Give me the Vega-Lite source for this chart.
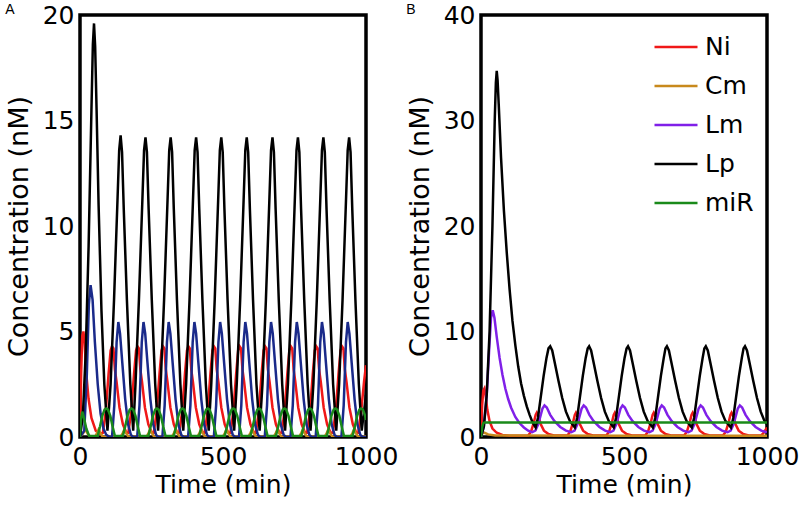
{
"$schema": "https://vega.github.io/schema/vega-lite/v6.json",
"padding": {"left": 3, "top": 1, "right": 0, "bottom": 0},
"config": {
  "view": {"stroke": "black", "strokeWidth": 3.5},
  "font": "DejaVu Sans",
  "axis": {"grid": false, "ticks": false, "domain": false, "labelFont": "DejaVu Sans", "labelFontSize": 25, "labelColor": "black", "titleFont": "DejaVu Sans", "titleFontSize": 25, "titleFontWeight": "normal", "titleColor": "black", "labelPadding": 6, "labelFlush": false, "format": "d"}
},
"datasets": {"d": [
{"p":"A","s":"Ni","t":0,"v":0},{"p":"A","s":"Ni","t":4,"v":3},{"p":"A","s":"Ni","t":8,"v":4.8},{"p":"A","s":"Ni","t":12,"v":5},{"p":"A","s":"Ni","t":16,"v":4.5},{"p":"A","s":"Ni","t":22,"v":3},{"p":"A","s":"Ni","t":30,"v":1.8},{"p":"A","s":"Ni","t":40,"v":0.9},{"p":"A","s":"Ni","t":55,"v":0.3},{"p":"A","s":"Ni","t":70,"v":0.15},
{"p":"A","s":"Ni","t":80,"v":0.2},{"p":"A","s":"Ni","t":90,"v":1.2},{"p":"A","s":"Ni","t":100,"v":3},{"p":"A","s":"Ni","t":107,"v":4.1},{"p":"A","s":"Ni","t":112,"v":4.3},{"p":"A","s":"Ni","t":117,"v":4.2},{"p":"A","s":"Ni","t":122,"v":3.2},{"p":"A","s":"Ni","t":128,"v":2.6},{"p":"A","s":"Ni","t":138,"v":1.4},{"p":"A","s":"Ni","t":150,"v":0.6},{"p":"A","s":"Ni","t":162,"v":0.2},
{"p":"A","s":"Ni","t":169,"v":0.2},{"p":"A","s":"Ni","t":179,"v":1.2},{"p":"A","s":"Ni","t":189,"v":3},{"p":"A","s":"Ni","t":196,"v":4.1},{"p":"A","s":"Ni","t":201,"v":4.3},{"p":"A","s":"Ni","t":206,"v":4.2},{"p":"A","s":"Ni","t":211,"v":3.2},{"p":"A","s":"Ni","t":217,"v":2.6},{"p":"A","s":"Ni","t":227,"v":1.4},{"p":"A","s":"Ni","t":239,"v":0.6},{"p":"A","s":"Ni","t":251,"v":0.2},
{"p":"A","s":"Ni","t":258,"v":0.2},{"p":"A","s":"Ni","t":268,"v":1.2},{"p":"A","s":"Ni","t":278,"v":3},{"p":"A","s":"Ni","t":285,"v":4.1},{"p":"A","s":"Ni","t":290,"v":4.3},{"p":"A","s":"Ni","t":295,"v":4.2},{"p":"A","s":"Ni","t":300,"v":3.2},{"p":"A","s":"Ni","t":306,"v":2.6},{"p":"A","s":"Ni","t":316,"v":1.4},{"p":"A","s":"Ni","t":328,"v":0.6},{"p":"A","s":"Ni","t":340,"v":0.2},
{"p":"A","s":"Ni","t":347,"v":0.2},{"p":"A","s":"Ni","t":357,"v":1.2},{"p":"A","s":"Ni","t":367,"v":3},{"p":"A","s":"Ni","t":374,"v":4.1},{"p":"A","s":"Ni","t":379,"v":4.3},{"p":"A","s":"Ni","t":384,"v":4.2},{"p":"A","s":"Ni","t":389,"v":3.2},{"p":"A","s":"Ni","t":395,"v":2.6},{"p":"A","s":"Ni","t":405,"v":1.4},{"p":"A","s":"Ni","t":417,"v":0.6},{"p":"A","s":"Ni","t":429,"v":0.2},
{"p":"A","s":"Ni","t":436,"v":0.2},{"p":"A","s":"Ni","t":446,"v":1.2},{"p":"A","s":"Ni","t":456,"v":3},{"p":"A","s":"Ni","t":463,"v":4.1},{"p":"A","s":"Ni","t":468,"v":4.3},{"p":"A","s":"Ni","t":473,"v":4.2},{"p":"A","s":"Ni","t":478,"v":3.2},{"p":"A","s":"Ni","t":484,"v":2.6},{"p":"A","s":"Ni","t":494,"v":1.4},{"p":"A","s":"Ni","t":506,"v":0.6},{"p":"A","s":"Ni","t":518,"v":0.2},
{"p":"A","s":"Ni","t":526,"v":0.2},{"p":"A","s":"Ni","t":536,"v":1.2},{"p":"A","s":"Ni","t":546,"v":3},{"p":"A","s":"Ni","t":553,"v":4.1},{"p":"A","s":"Ni","t":558,"v":4.3},{"p":"A","s":"Ni","t":563,"v":4.2},{"p":"A","s":"Ni","t":568,"v":3.2},{"p":"A","s":"Ni","t":574,"v":2.6},{"p":"A","s":"Ni","t":584,"v":1.4},{"p":"A","s":"Ni","t":596,"v":0.6},{"p":"A","s":"Ni","t":608,"v":0.2},
{"p":"A","s":"Ni","t":615,"v":0.2},{"p":"A","s":"Ni","t":625,"v":1.2},{"p":"A","s":"Ni","t":635,"v":3},{"p":"A","s":"Ni","t":642,"v":4.1},{"p":"A","s":"Ni","t":647,"v":4.3},{"p":"A","s":"Ni","t":652,"v":4.2},{"p":"A","s":"Ni","t":657,"v":3.2},{"p":"A","s":"Ni","t":663,"v":2.6},{"p":"A","s":"Ni","t":673,"v":1.4},{"p":"A","s":"Ni","t":685,"v":0.6},{"p":"A","s":"Ni","t":697,"v":0.2},
{"p":"A","s":"Ni","t":705,"v":0.2},{"p":"A","s":"Ni","t":715,"v":1.2},{"p":"A","s":"Ni","t":725,"v":3},{"p":"A","s":"Ni","t":732,"v":4.1},{"p":"A","s":"Ni","t":737,"v":4.3},{"p":"A","s":"Ni","t":742,"v":4.2},{"p":"A","s":"Ni","t":747,"v":3.2},{"p":"A","s":"Ni","t":753,"v":2.6},{"p":"A","s":"Ni","t":763,"v":1.4},{"p":"A","s":"Ni","t":775,"v":0.6},{"p":"A","s":"Ni","t":787,"v":0.2},
{"p":"A","s":"Ni","t":794,"v":0.2},{"p":"A","s":"Ni","t":804,"v":1.2},{"p":"A","s":"Ni","t":814,"v":3},{"p":"A","s":"Ni","t":821,"v":4.1},{"p":"A","s":"Ni","t":826,"v":4.3},{"p":"A","s":"Ni","t":831,"v":4.2},{"p":"A","s":"Ni","t":836,"v":3.2},{"p":"A","s":"Ni","t":842,"v":2.6},{"p":"A","s":"Ni","t":852,"v":1.4},{"p":"A","s":"Ni","t":864,"v":0.6},{"p":"A","s":"Ni","t":876,"v":0.2},
{"p":"A","s":"Ni","t":884,"v":0.2},{"p":"A","s":"Ni","t":894,"v":1.2},{"p":"A","s":"Ni","t":904,"v":3},{"p":"A","s":"Ni","t":911,"v":4.1},{"p":"A","s":"Ni","t":916,"v":4.3},{"p":"A","s":"Ni","t":921,"v":4.2},{"p":"A","s":"Ni","t":926,"v":3.2},{"p":"A","s":"Ni","t":932,"v":2.6},{"p":"A","s":"Ni","t":942,"v":1.4},{"p":"A","s":"Ni","t":954,"v":0.6},{"p":"A","s":"Ni","t":966,"v":0.2},
{"p":"A","s":"Ni","t":973,"v":0.2},{"p":"A","s":"Ni","t":983,"v":1.2},{"p":"A","s":"Ni","t":993,"v":2.6},{"p":"A","s":"Ni","t":1000,"v":3.4},

{"p":"A","s":"Cm","t":0,"v":0},{"p":"A","s":"Cm","t":12,"v":0.2},{"p":"A","s":"Cm","t":20,"v":0.35},{"p":"A","s":"Cm","t":27,"v":0.15},{"p":"A","s":"Cm","t":36,"v":0.02},
{"p":"A","s":"Cm","t":53,"v":0.02},{"p":"A","s":"Cm","t":60,"v":0.2},{"p":"A","s":"Cm","t":65,"v":0.35},{"p":"A","s":"Cm","t":71,"v":0.2},{"p":"A","s":"Cm","t":79,"v":0.02},
{"p":"A","s":"Cm","t":143,"v":0.02},{"p":"A","s":"Cm","t":150,"v":0.2},{"p":"A","s":"Cm","t":155,"v":0.35},{"p":"A","s":"Cm","t":161,"v":0.2},{"p":"A","s":"Cm","t":169,"v":0.02},
{"p":"A","s":"Cm","t":233,"v":0.02},{"p":"A","s":"Cm","t":240,"v":0.2},{"p":"A","s":"Cm","t":245,"v":0.35},{"p":"A","s":"Cm","t":251,"v":0.2},{"p":"A","s":"Cm","t":259,"v":0.02},
{"p":"A","s":"Cm","t":322,"v":0.02},{"p":"A","s":"Cm","t":329,"v":0.2},{"p":"A","s":"Cm","t":334,"v":0.35},{"p":"A","s":"Cm","t":340,"v":0.2},{"p":"A","s":"Cm","t":348,"v":0.02},
{"p":"A","s":"Cm","t":411,"v":0.02},{"p":"A","s":"Cm","t":418,"v":0.2},{"p":"A","s":"Cm","t":423,"v":0.35},{"p":"A","s":"Cm","t":429,"v":0.2},{"p":"A","s":"Cm","t":437,"v":0.02},
{"p":"A","s":"Cm","t":500,"v":0.02},{"p":"A","s":"Cm","t":507,"v":0.2},{"p":"A","s":"Cm","t":512,"v":0.35},{"p":"A","s":"Cm","t":518,"v":0.2},{"p":"A","s":"Cm","t":526,"v":0.02},
{"p":"A","s":"Cm","t":589,"v":0.02},{"p":"A","s":"Cm","t":596,"v":0.2},{"p":"A","s":"Cm","t":601,"v":0.35},{"p":"A","s":"Cm","t":607,"v":0.2},{"p":"A","s":"Cm","t":615,"v":0.02},
{"p":"A","s":"Cm","t":678,"v":0.02},{"p":"A","s":"Cm","t":685,"v":0.2},{"p":"A","s":"Cm","t":690,"v":0.35},{"p":"A","s":"Cm","t":696,"v":0.2},{"p":"A","s":"Cm","t":704,"v":0.02},
{"p":"A","s":"Cm","t":767,"v":0.02},{"p":"A","s":"Cm","t":774,"v":0.2},{"p":"A","s":"Cm","t":779,"v":0.35},{"p":"A","s":"Cm","t":785,"v":0.2},{"p":"A","s":"Cm","t":793,"v":0.02},
{"p":"A","s":"Cm","t":856,"v":0.02},{"p":"A","s":"Cm","t":863,"v":0.2},{"p":"A","s":"Cm","t":868,"v":0.35},{"p":"A","s":"Cm","t":874,"v":0.2},{"p":"A","s":"Cm","t":882,"v":0.02},
{"p":"A","s":"Cm","t":946,"v":0.02},{"p":"A","s":"Cm","t":953,"v":0.2},{"p":"A","s":"Cm","t":958,"v":0.35},{"p":"A","s":"Cm","t":964,"v":0.2},{"p":"A","s":"Cm","t":972,"v":0.02},{"p":"A","s":"Cm","t":1000,"v":0.02},

{"p":"A","s":"Lm","t":0,"v":0},{"p":"A","s":"Lm","t":15,"v":0.3},{"p":"A","s":"Lm","t":24,"v":3},{"p":"A","s":"Lm","t":31,"v":6.3},{"p":"A","s":"Lm","t":37,"v":7.2},{"p":"A","s":"Lm","t":44,"v":6.5},{"p":"A","s":"Lm","t":52,"v":4.5},{"p":"A","s":"Lm","t":62,"v":2.5},{"p":"A","s":"Lm","t":72,"v":1.1},{"p":"A","s":"Lm","t":82,"v":0.4},{"p":"A","s":"Lm","t":92,"v":0.1},{"p":"A","s":"Lm","t":104,"v":0},
{"p":"A","s":"Lm","t":112,"v":0},{"p":"A","s":"Lm","t":120,"v":1.5},{"p":"A","s":"Lm","t":128,"v":4.5},{"p":"A","s":"Lm","t":134,"v":5.45},{"p":"A","s":"Lm","t":140,"v":4.9},{"p":"A","s":"Lm","t":148,"v":3.5},{"p":"A","s":"Lm","t":158,"v":1.8},{"p":"A","s":"Lm","t":168,"v":0.6},{"p":"A","s":"Lm","t":178,"v":0.1},{"p":"A","s":"Lm","t":186,"v":0},
{"p":"A","s":"Lm","t":200,"v":0},{"p":"A","s":"Lm","t":208,"v":1.5},{"p":"A","s":"Lm","t":216,"v":4.5},{"p":"A","s":"Lm","t":222,"v":5.45},{"p":"A","s":"Lm","t":228,"v":4.9},{"p":"A","s":"Lm","t":236,"v":3.5},{"p":"A","s":"Lm","t":246,"v":1.8},{"p":"A","s":"Lm","t":256,"v":0.6},{"p":"A","s":"Lm","t":266,"v":0.1},{"p":"A","s":"Lm","t":274,"v":0},
{"p":"A","s":"Lm","t":288,"v":0},{"p":"A","s":"Lm","t":296,"v":1.5},{"p":"A","s":"Lm","t":304,"v":4.5},{"p":"A","s":"Lm","t":310,"v":5.45},{"p":"A","s":"Lm","t":316,"v":4.9},{"p":"A","s":"Lm","t":324,"v":3.5},{"p":"A","s":"Lm","t":334,"v":1.8},{"p":"A","s":"Lm","t":344,"v":0.6},{"p":"A","s":"Lm","t":354,"v":0.1},{"p":"A","s":"Lm","t":362,"v":0},
{"p":"A","s":"Lm","t":378,"v":0},{"p":"A","s":"Lm","t":386,"v":1.5},{"p":"A","s":"Lm","t":394,"v":4.5},{"p":"A","s":"Lm","t":400,"v":5.45},{"p":"A","s":"Lm","t":406,"v":4.9},{"p":"A","s":"Lm","t":414,"v":3.5},{"p":"A","s":"Lm","t":424,"v":1.8},{"p":"A","s":"Lm","t":434,"v":0.6},{"p":"A","s":"Lm","t":444,"v":0.1},{"p":"A","s":"Lm","t":452,"v":0},
{"p":"A","s":"Lm","t":468,"v":0},{"p":"A","s":"Lm","t":476,"v":1.5},{"p":"A","s":"Lm","t":484,"v":4.5},{"p":"A","s":"Lm","t":490,"v":5.45},{"p":"A","s":"Lm","t":496,"v":4.9},{"p":"A","s":"Lm","t":504,"v":3.5},{"p":"A","s":"Lm","t":514,"v":1.8},{"p":"A","s":"Lm","t":524,"v":0.6},{"p":"A","s":"Lm","t":534,"v":0.1},{"p":"A","s":"Lm","t":542,"v":0},
{"p":"A","s":"Lm","t":556,"v":0},{"p":"A","s":"Lm","t":564,"v":1.5},{"p":"A","s":"Lm","t":572,"v":4.5},{"p":"A","s":"Lm","t":578,"v":5.45},{"p":"A","s":"Lm","t":584,"v":4.9},{"p":"A","s":"Lm","t":592,"v":3.5},{"p":"A","s":"Lm","t":602,"v":1.8},{"p":"A","s":"Lm","t":612,"v":0.6},{"p":"A","s":"Lm","t":622,"v":0.1},{"p":"A","s":"Lm","t":630,"v":0},
{"p":"A","s":"Lm","t":646,"v":0},{"p":"A","s":"Lm","t":654,"v":1.5},{"p":"A","s":"Lm","t":662,"v":4.5},{"p":"A","s":"Lm","t":668,"v":5.45},{"p":"A","s":"Lm","t":674,"v":4.9},{"p":"A","s":"Lm","t":682,"v":3.5},{"p":"A","s":"Lm","t":692,"v":1.8},{"p":"A","s":"Lm","t":702,"v":0.6},{"p":"A","s":"Lm","t":712,"v":0.1},{"p":"A","s":"Lm","t":720,"v":0},
{"p":"A","s":"Lm","t":736,"v":0},{"p":"A","s":"Lm","t":744,"v":1.5},{"p":"A","s":"Lm","t":752,"v":4.5},{"p":"A","s":"Lm","t":758,"v":5.45},{"p":"A","s":"Lm","t":764,"v":4.9},{"p":"A","s":"Lm","t":772,"v":3.5},{"p":"A","s":"Lm","t":782,"v":1.8},{"p":"A","s":"Lm","t":792,"v":0.6},{"p":"A","s":"Lm","t":802,"v":0.1},{"p":"A","s":"Lm","t":810,"v":0},
{"p":"A","s":"Lm","t":824,"v":0},{"p":"A","s":"Lm","t":832,"v":1.5},{"p":"A","s":"Lm","t":840,"v":4.5},{"p":"A","s":"Lm","t":846,"v":5.45},{"p":"A","s":"Lm","t":852,"v":4.9},{"p":"A","s":"Lm","t":860,"v":3.5},{"p":"A","s":"Lm","t":870,"v":1.8},{"p":"A","s":"Lm","t":880,"v":0.6},{"p":"A","s":"Lm","t":890,"v":0.1},{"p":"A","s":"Lm","t":898,"v":0},
{"p":"A","s":"Lm","t":914,"v":0},{"p":"A","s":"Lm","t":922,"v":1.5},{"p":"A","s":"Lm","t":930,"v":4.5},{"p":"A","s":"Lm","t":936,"v":5.45},{"p":"A","s":"Lm","t":942,"v":4.9},{"p":"A","s":"Lm","t":950,"v":3.5},{"p":"A","s":"Lm","t":960,"v":1.8},{"p":"A","s":"Lm","t":970,"v":0.6},{"p":"A","s":"Lm","t":980,"v":0.1},{"p":"A","s":"Lm","t":988,"v":0},{"p":"A","s":"Lm","t":1000,"v":0},

{"p":"A","s":"Lp","t":0,"v":0},{"p":"A","s":"Lp","t":10,"v":1},{"p":"A","s":"Lp","t":20,"v":4},{"p":"A","s":"Lp","t":30,"v":9},{"p":"A","s":"Lp","t":40,"v":15.5},{"p":"A","s":"Lp","t":45,"v":18.6},{"p":"A","s":"Lp","t":49,"v":19.6},{"p":"A","s":"Lp","t":53,"v":18.5},{"p":"A","s":"Lp","t":58,"v":15.5},{"p":"A","s":"Lp","t":65,"v":11},{"p":"A","s":"Lp","t":75,"v":6},{"p":"A","s":"Lp","t":85,"v":2.5},{"p":"A","s":"Lp","t":96,"v":0.3},
{"p":"A","s":"Lp","t":107,"v":2.5},{"p":"A","s":"Lp","t":119,"v":6.5},{"p":"A","s":"Lp","t":131,"v":11.2},{"p":"A","s":"Lp","t":137,"v":13.6},{"p":"A","s":"Lp","t":142,"v":14.3},{"p":"A","s":"Lp","t":147,"v":13.5},{"p":"A","s":"Lp","t":153,"v":10.8},{"p":"A","s":"Lp","t":164,"v":6.5},{"p":"A","s":"Lp","t":176,"v":2.5},{"p":"A","s":"Lp","t":186,"v":0.3},
{"p":"A","s":"Lp","t":194,"v":2.5},{"p":"A","s":"Lp","t":206,"v":6.5},{"p":"A","s":"Lp","t":218,"v":11.2},{"p":"A","s":"Lp","t":224,"v":13.6},{"p":"A","s":"Lp","t":229,"v":14.2},{"p":"A","s":"Lp","t":234,"v":13.5},{"p":"A","s":"Lp","t":240,"v":10.8},{"p":"A","s":"Lp","t":251,"v":6.5},{"p":"A","s":"Lp","t":263,"v":2.5},{"p":"A","s":"Lp","t":273,"v":0.3},
{"p":"A","s":"Lp","t":282,"v":2.5},{"p":"A","s":"Lp","t":294,"v":6.5},{"p":"A","s":"Lp","t":306,"v":11.2},{"p":"A","s":"Lp","t":312,"v":13.6},{"p":"A","s":"Lp","t":317,"v":14.2},{"p":"A","s":"Lp","t":322,"v":13.5},{"p":"A","s":"Lp","t":328,"v":10.8},{"p":"A","s":"Lp","t":339,"v":6.5},{"p":"A","s":"Lp","t":351,"v":2.5},{"p":"A","s":"Lp","t":361,"v":0.3},
{"p":"A","s":"Lp","t":371,"v":2.5},{"p":"A","s":"Lp","t":383,"v":6.5},{"p":"A","s":"Lp","t":395,"v":11.2},{"p":"A","s":"Lp","t":401,"v":13.6},{"p":"A","s":"Lp","t":406,"v":14.2},{"p":"A","s":"Lp","t":411,"v":13.5},{"p":"A","s":"Lp","t":417,"v":10.8},{"p":"A","s":"Lp","t":428,"v":6.5},{"p":"A","s":"Lp","t":440,"v":2.5},{"p":"A","s":"Lp","t":450,"v":0.3},
{"p":"A","s":"Lp","t":459,"v":2.5},{"p":"A","s":"Lp","t":471,"v":6.5},{"p":"A","s":"Lp","t":483,"v":11.2},{"p":"A","s":"Lp","t":489,"v":13.6},{"p":"A","s":"Lp","t":494,"v":14.2},{"p":"A","s":"Lp","t":499,"v":13.5},{"p":"A","s":"Lp","t":505,"v":10.8},{"p":"A","s":"Lp","t":516,"v":6.5},{"p":"A","s":"Lp","t":528,"v":2.5},{"p":"A","s":"Lp","t":539,"v":0.3},
{"p":"A","s":"Lp","t":548,"v":2.5},{"p":"A","s":"Lp","t":560,"v":6.5},{"p":"A","s":"Lp","t":572,"v":11.2},{"p":"A","s":"Lp","t":578,"v":13.6},{"p":"A","s":"Lp","t":583,"v":14.2},{"p":"A","s":"Lp","t":588,"v":13.5},{"p":"A","s":"Lp","t":594,"v":10.8},{"p":"A","s":"Lp","t":605,"v":6.5},{"p":"A","s":"Lp","t":617,"v":2.5},{"p":"A","s":"Lp","t":628,"v":0.3},
{"p":"A","s":"Lp","t":638,"v":2.5},{"p":"A","s":"Lp","t":650,"v":6.5},{"p":"A","s":"Lp","t":662,"v":11.2},{"p":"A","s":"Lp","t":668,"v":13.6},{"p":"A","s":"Lp","t":673,"v":14.2},{"p":"A","s":"Lp","t":678,"v":13.5},{"p":"A","s":"Lp","t":684,"v":10.8},{"p":"A","s":"Lp","t":695,"v":6.5},{"p":"A","s":"Lp","t":707,"v":2.5},{"p":"A","s":"Lp","t":717,"v":0.3},
{"p":"A","s":"Lp","t":727,"v":2.5},{"p":"A","s":"Lp","t":739,"v":6.5},{"p":"A","s":"Lp","t":751,"v":11.2},{"p":"A","s":"Lp","t":757,"v":13.6},{"p":"A","s":"Lp","t":762,"v":14.2},{"p":"A","s":"Lp","t":767,"v":13.5},{"p":"A","s":"Lp","t":773,"v":10.8},{"p":"A","s":"Lp","t":784,"v":6.5},{"p":"A","s":"Lp","t":796,"v":2.5},{"p":"A","s":"Lp","t":806,"v":0.3},
{"p":"A","s":"Lp","t":816,"v":2.5},{"p":"A","s":"Lp","t":828,"v":6.5},{"p":"A","s":"Lp","t":840,"v":11.2},{"p":"A","s":"Lp","t":846,"v":13.6},{"p":"A","s":"Lp","t":851,"v":14.2},{"p":"A","s":"Lp","t":856,"v":13.5},{"p":"A","s":"Lp","t":862,"v":10.8},{"p":"A","s":"Lp","t":873,"v":6.5},{"p":"A","s":"Lp","t":885,"v":2.5},{"p":"A","s":"Lp","t":896,"v":0.3},
{"p":"A","s":"Lp","t":906,"v":2.5},{"p":"A","s":"Lp","t":918,"v":6.5},{"p":"A","s":"Lp","t":930,"v":11.2},{"p":"A","s":"Lp","t":936,"v":13.6},{"p":"A","s":"Lp","t":941,"v":14.2},{"p":"A","s":"Lp","t":946,"v":13.5},{"p":"A","s":"Lp","t":952,"v":10.8},{"p":"A","s":"Lp","t":963,"v":6.5},{"p":"A","s":"Lp","t":975,"v":2.5},{"p":"A","s":"Lp","t":985,"v":0.3},{"p":"A","s":"Lp","t":1000,"v":2},

{"p":"A","s":"miR","t":0,"v":0},{"p":"A","s":"miR","t":3,"v":0.8},{"p":"A","s":"miR","t":8,"v":1.2},{"p":"A","s":"miR","t":14,"v":0.9},{"p":"A","s":"miR","t":22,"v":0.4},{"p":"A","s":"miR","t":32,"v":0.05},
{"p":"A","s":"miR","t":62,"v":0.05},{"p":"A","s":"miR","t":70,"v":0.5},{"p":"A","s":"miR","t":78,"v":1},{"p":"A","s":"miR","t":86,"v":1.3},{"p":"A","s":"miR","t":92,"v":1.35},{"p":"A","s":"miR","t":98,"v":1.3},{"p":"A","s":"miR","t":106,"v":1},{"p":"A","s":"miR","t":114,"v":0.5},{"p":"A","s":"miR","t":122,"v":0.05},
{"p":"A","s":"miR","t":150,"v":0.05},{"p":"A","s":"miR","t":158,"v":0.5},{"p":"A","s":"miR","t":166,"v":1},{"p":"A","s":"miR","t":174,"v":1.3},{"p":"A","s":"miR","t":180,"v":1.35},{"p":"A","s":"miR","t":186,"v":1.3},{"p":"A","s":"miR","t":194,"v":1},{"p":"A","s":"miR","t":202,"v":0.5},{"p":"A","s":"miR","t":210,"v":0.05},
{"p":"A","s":"miR","t":239,"v":0.05},{"p":"A","s":"miR","t":247,"v":0.5},{"p":"A","s":"miR","t":255,"v":1},{"p":"A","s":"miR","t":263,"v":1.3},{"p":"A","s":"miR","t":269,"v":1.35},{"p":"A","s":"miR","t":275,"v":1.3},{"p":"A","s":"miR","t":283,"v":1},{"p":"A","s":"miR","t":291,"v":0.5},{"p":"A","s":"miR","t":299,"v":0.05},
{"p":"A","s":"miR","t":328,"v":0.05},{"p":"A","s":"miR","t":336,"v":0.5},{"p":"A","s":"miR","t":344,"v":1},{"p":"A","s":"miR","t":352,"v":1.3},{"p":"A","s":"miR","t":358,"v":1.35},{"p":"A","s":"miR","t":364,"v":1.3},{"p":"A","s":"miR","t":372,"v":1},{"p":"A","s":"miR","t":380,"v":0.5},{"p":"A","s":"miR","t":388,"v":0.05},
{"p":"A","s":"miR","t":417,"v":0.05},{"p":"A","s":"miR","t":425,"v":0.5},{"p":"A","s":"miR","t":433,"v":1},{"p":"A","s":"miR","t":441,"v":1.3},{"p":"A","s":"miR","t":447,"v":1.35},{"p":"A","s":"miR","t":453,"v":1.3},{"p":"A","s":"miR","t":461,"v":1},{"p":"A","s":"miR","t":469,"v":0.5},{"p":"A","s":"miR","t":477,"v":0.05},
{"p":"A","s":"miR","t":506,"v":0.05},{"p":"A","s":"miR","t":514,"v":0.5},{"p":"A","s":"miR","t":522,"v":1},{"p":"A","s":"miR","t":530,"v":1.3},{"p":"A","s":"miR","t":536,"v":1.35},{"p":"A","s":"miR","t":542,"v":1.3},{"p":"A","s":"miR","t":550,"v":1},{"p":"A","s":"miR","t":558,"v":0.5},{"p":"A","s":"miR","t":566,"v":0.05},
{"p":"A","s":"miR","t":596,"v":0.05},{"p":"A","s":"miR","t":604,"v":0.5},{"p":"A","s":"miR","t":612,"v":1},{"p":"A","s":"miR","t":620,"v":1.3},{"p":"A","s":"miR","t":626,"v":1.35},{"p":"A","s":"miR","t":632,"v":1.3},{"p":"A","s":"miR","t":640,"v":1},{"p":"A","s":"miR","t":648,"v":0.5},{"p":"A","s":"miR","t":656,"v":0.05},
{"p":"A","s":"miR","t":685,"v":0.05},{"p":"A","s":"miR","t":693,"v":0.5},{"p":"A","s":"miR","t":701,"v":1},{"p":"A","s":"miR","t":709,"v":1.3},{"p":"A","s":"miR","t":715,"v":1.35},{"p":"A","s":"miR","t":721,"v":1.3},{"p":"A","s":"miR","t":729,"v":1},{"p":"A","s":"miR","t":737,"v":0.5},{"p":"A","s":"miR","t":745,"v":0.05},
{"p":"A","s":"miR","t":774,"v":0.05},{"p":"A","s":"miR","t":782,"v":0.5},{"p":"A","s":"miR","t":790,"v":1},{"p":"A","s":"miR","t":798,"v":1.3},{"p":"A","s":"miR","t":804,"v":1.35},{"p":"A","s":"miR","t":810,"v":1.3},{"p":"A","s":"miR","t":818,"v":1},{"p":"A","s":"miR","t":826,"v":0.5},{"p":"A","s":"miR","t":834,"v":0.05},
{"p":"A","s":"miR","t":863,"v":0.05},{"p":"A","s":"miR","t":871,"v":0.5},{"p":"A","s":"miR","t":879,"v":1},{"p":"A","s":"miR","t":887,"v":1.3},{"p":"A","s":"miR","t":893,"v":1.35},{"p":"A","s":"miR","t":899,"v":1.3},{"p":"A","s":"miR","t":907,"v":1},{"p":"A","s":"miR","t":915,"v":0.5},{"p":"A","s":"miR","t":923,"v":0.05},
{"p":"A","s":"miR","t":953,"v":0.05},{"p":"A","s":"miR","t":961,"v":0.5},{"p":"A","s":"miR","t":969,"v":1},{"p":"A","s":"miR","t":977,"v":1.3},{"p":"A","s":"miR","t":983,"v":1.35},{"p":"A","s":"miR","t":989,"v":1.3},{"p":"A","s":"miR","t":997,"v":1},{"p":"A","s":"miR","t":1000,"v":0.8},

{"p":"B","s":"Ni","t":0,"v":0},{"p":"B","s":"Ni","t":4,"v":3},{"p":"B","s":"Ni","t":8,"v":4.4},{"p":"B","s":"Ni","t":12,"v":4.6},{"p":"B","s":"Ni","t":16,"v":4},{"p":"B","s":"Ni","t":22,"v":2.6},{"p":"B","s":"Ni","t":30,"v":1.5},{"p":"B","s":"Ni","t":40,"v":0.8},{"p":"B","s":"Ni","t":55,"v":0.4},{"p":"B","s":"Ni","t":75,"v":0.2},{"p":"B","s":"Ni","t":100,"v":0.12},{"p":"B","s":"Ni","t":160,"v":0.12},
{"p":"B","s":"Ni","t":165,"v":0.15},{"p":"B","s":"Ni","t":175,"v":0.5},{"p":"B","s":"Ni","t":185,"v":1.4},{"p":"B","s":"Ni","t":191,"v":2.1},{"p":"B","s":"Ni","t":195,"v":2.3},{"p":"B","s":"Ni","t":201,"v":2},{"p":"B","s":"Ni","t":209,"v":1.2},{"p":"B","s":"Ni","t":220,"v":0.6},{"p":"B","s":"Ni","t":235,"v":0.3},{"p":"B","s":"Ni","t":255,"v":0.15},
{"p":"B","s":"Ni","t":302,"v":0.15},{"p":"B","s":"Ni","t":312,"v":0.5},{"p":"B","s":"Ni","t":322,"v":1.4},{"p":"B","s":"Ni","t":328,"v":2.1},{"p":"B","s":"Ni","t":332,"v":2.3},{"p":"B","s":"Ni","t":338,"v":2},{"p":"B","s":"Ni","t":346,"v":1.2},{"p":"B","s":"Ni","t":357,"v":0.6},{"p":"B","s":"Ni","t":372,"v":0.3},{"p":"B","s":"Ni","t":392,"v":0.15},
{"p":"B","s":"Ni","t":438,"v":0.15},{"p":"B","s":"Ni","t":448,"v":0.5},{"p":"B","s":"Ni","t":458,"v":1.4},{"p":"B","s":"Ni","t":464,"v":2.1},{"p":"B","s":"Ni","t":468,"v":2.3},{"p":"B","s":"Ni","t":474,"v":2},{"p":"B","s":"Ni","t":482,"v":1.2},{"p":"B","s":"Ni","t":493,"v":0.6},{"p":"B","s":"Ni","t":508,"v":0.3},{"p":"B","s":"Ni","t":528,"v":0.15},
{"p":"B","s":"Ni","t":574,"v":0.15},{"p":"B","s":"Ni","t":584,"v":0.5},{"p":"B","s":"Ni","t":594,"v":1.4},{"p":"B","s":"Ni","t":600,"v":2.1},{"p":"B","s":"Ni","t":604,"v":2.3},{"p":"B","s":"Ni","t":610,"v":2},{"p":"B","s":"Ni","t":618,"v":1.2},{"p":"B","s":"Ni","t":629,"v":0.6},{"p":"B","s":"Ni","t":644,"v":0.3},{"p":"B","s":"Ni","t":664,"v":0.15},
{"p":"B","s":"Ni","t":710,"v":0.15},{"p":"B","s":"Ni","t":720,"v":0.5},{"p":"B","s":"Ni","t":730,"v":1.4},{"p":"B","s":"Ni","t":736,"v":2.1},{"p":"B","s":"Ni","t":740,"v":2.3},{"p":"B","s":"Ni","t":746,"v":2},{"p":"B","s":"Ni","t":754,"v":1.2},{"p":"B","s":"Ni","t":765,"v":0.6},{"p":"B","s":"Ni","t":780,"v":0.3},{"p":"B","s":"Ni","t":800,"v":0.15},
{"p":"B","s":"Ni","t":846,"v":0.15},{"p":"B","s":"Ni","t":856,"v":0.5},{"p":"B","s":"Ni","t":866,"v":1.4},{"p":"B","s":"Ni","t":872,"v":2.1},{"p":"B","s":"Ni","t":876,"v":2.3},{"p":"B","s":"Ni","t":882,"v":2},{"p":"B","s":"Ni","t":890,"v":1.2},{"p":"B","s":"Ni","t":901,"v":0.6},{"p":"B","s":"Ni","t":916,"v":0.3},{"p":"B","s":"Ni","t":936,"v":0.15},
{"p":"B","s":"Ni","t":980,"v":0.15},{"p":"B","s":"Ni","t":990,"v":0.45},{"p":"B","s":"Ni","t":1000,"v":0.9},

{"p":"B","s":"Cm","t":0,"v":0},{"p":"B","s":"Cm","t":6,"v":0.45},{"p":"B","s":"Cm","t":12,"v":0.4},{"p":"B","s":"Cm","t":25,"v":0.25},{"p":"B","s":"Cm","t":50,"v":0.15},{"p":"B","s":"Cm","t":500,"v":0.12},{"p":"B","s":"Cm","t":1000,"v":0.12},

{"p":"B","s":"Lm","t":0,"v":0},{"p":"B","s":"Lm","t":10,"v":1},{"p":"B","s":"Lm","t":20,"v":4},{"p":"B","s":"Lm","t":28,"v":8},{"p":"B","s":"Lm","t":35,"v":11.3},{"p":"B","s":"Lm","t":41,"v":12},{"p":"B","s":"Lm","t":47,"v":11.3},{"p":"B","s":"Lm","t":55,"v":9.5},{"p":"B","s":"Lm","t":65,"v":7.5},{"p":"B","s":"Lm","t":75,"v":5.9},{"p":"B","s":"Lm","t":85,"v":4.6},{"p":"B","s":"Lm","t":95,"v":3.6},{"p":"B","s":"Lm","t":105,"v":2.8},{"p":"B","s":"Lm","t":120,"v":1.9},{"p":"B","s":"Lm","t":135,"v":1.3},{"p":"B","s":"Lm","t":150,"v":0.9},{"p":"B","s":"Lm","t":165,"v":0.6},{"p":"B","s":"Lm","t":179,"v":0.45},
{"p":"B","s":"Lm","t":190,"v":0.6},{"p":"B","s":"Lm","t":200,"v":1.2},{"p":"B","s":"Lm","t":208,"v":2},{"p":"B","s":"Lm","t":215,"v":2.7},{"p":"B","s":"Lm","t":222,"v":3},{"p":"B","s":"Lm","t":230,"v":2.8},{"p":"B","s":"Lm","t":242,"v":2.1},{"p":"B","s":"Lm","t":257,"v":1.5},{"p":"B","s":"Lm","t":277,"v":0.95},{"p":"B","s":"Lm","t":297,"v":0.6},{"p":"B","s":"Lm","t":316,"v":0.45},
{"p":"B","s":"Lm","t":327,"v":0.6},{"p":"B","s":"Lm","t":337,"v":1.2},{"p":"B","s":"Lm","t":345,"v":2},{"p":"B","s":"Lm","t":352,"v":2.7},{"p":"B","s":"Lm","t":359,"v":3},{"p":"B","s":"Lm","t":367,"v":2.8},{"p":"B","s":"Lm","t":379,"v":2.1},{"p":"B","s":"Lm","t":394,"v":1.5},{"p":"B","s":"Lm","t":414,"v":0.95},{"p":"B","s":"Lm","t":434,"v":0.6},{"p":"B","s":"Lm","t":452,"v":0.45},
{"p":"B","s":"Lm","t":463,"v":0.6},{"p":"B","s":"Lm","t":473,"v":1.2},{"p":"B","s":"Lm","t":481,"v":2},{"p":"B","s":"Lm","t":488,"v":2.7},{"p":"B","s":"Lm","t":495,"v":3},{"p":"B","s":"Lm","t":503,"v":2.8},{"p":"B","s":"Lm","t":515,"v":2.1},{"p":"B","s":"Lm","t":530,"v":1.5},{"p":"B","s":"Lm","t":550,"v":0.95},{"p":"B","s":"Lm","t":570,"v":0.6},{"p":"B","s":"Lm","t":589,"v":0.45},
{"p":"B","s":"Lm","t":600,"v":0.6},{"p":"B","s":"Lm","t":610,"v":1.2},{"p":"B","s":"Lm","t":618,"v":2},{"p":"B","s":"Lm","t":625,"v":2.7},{"p":"B","s":"Lm","t":632,"v":3},{"p":"B","s":"Lm","t":640,"v":2.8},{"p":"B","s":"Lm","t":652,"v":2.1},{"p":"B","s":"Lm","t":667,"v":1.5},{"p":"B","s":"Lm","t":687,"v":0.95},{"p":"B","s":"Lm","t":707,"v":0.6},{"p":"B","s":"Lm","t":725,"v":0.45},
{"p":"B","s":"Lm","t":736,"v":0.6},{"p":"B","s":"Lm","t":746,"v":1.2},{"p":"B","s":"Lm","t":754,"v":2},{"p":"B","s":"Lm","t":761,"v":2.7},{"p":"B","s":"Lm","t":768,"v":3},{"p":"B","s":"Lm","t":776,"v":2.8},{"p":"B","s":"Lm","t":788,"v":2.1},{"p":"B","s":"Lm","t":803,"v":1.5},{"p":"B","s":"Lm","t":823,"v":0.95},{"p":"B","s":"Lm","t":843,"v":0.6},{"p":"B","s":"Lm","t":862,"v":0.45},
{"p":"B","s":"Lm","t":873,"v":0.6},{"p":"B","s":"Lm","t":883,"v":1.2},{"p":"B","s":"Lm","t":891,"v":2},{"p":"B","s":"Lm","t":898,"v":2.7},{"p":"B","s":"Lm","t":905,"v":3},{"p":"B","s":"Lm","t":913,"v":2.8},{"p":"B","s":"Lm","t":925,"v":2.1},{"p":"B","s":"Lm","t":940,"v":1.5},{"p":"B","s":"Lm","t":960,"v":0.95},{"p":"B","s":"Lm","t":980,"v":0.6},{"p":"B","s":"Lm","t":1000,"v":0.45},

{"p":"B","s":"Lp","t":0,"v":0},{"p":"B","s":"Lp","t":10,"v":1},{"p":"B","s":"Lp","t":20,"v":4},{"p":"B","s":"Lp","t":30,"v":10},{"p":"B","s":"Lp","t":40,"v":20},{"p":"B","s":"Lp","t":48,"v":30},{"p":"B","s":"Lp","t":52,"v":33.6},{"p":"B","s":"Lp","t":55,"v":34.7},{"p":"B","s":"Lp","t":58,"v":33.8},{"p":"B","s":"Lp","t":62,"v":31.5},{"p":"B","s":"Lp","t":70,"v":26.5},{"p":"B","s":"Lp","t":80,"v":21.5},{"p":"B","s":"Lp","t":90,"v":17.5},{"p":"B","s":"Lp","t":100,"v":14},{"p":"B","s":"Lp","t":110,"v":11},{"p":"B","s":"Lp","t":120,"v":8.7},{"p":"B","s":"Lp","t":130,"v":6.7},{"p":"B","s":"Lp","t":140,"v":5.1},{"p":"B","s":"Lp","t":150,"v":3.9},{"p":"B","s":"Lp","t":160,"v":2.9},{"p":"B","s":"Lp","t":170,"v":2.1},{"p":"B","s":"Lp","t":180,"v":1.4},{"p":"B","s":"Lp","t":191,"v":0.9},
{"p":"B","s":"Lp","t":199,"v":1.8},{"p":"B","s":"Lp","t":209,"v":3.8},{"p":"B","s":"Lp","t":219,"v":5.8},{"p":"B","s":"Lp","t":229,"v":7.5},{"p":"B","s":"Lp","t":236,"v":8.4},{"p":"B","s":"Lp","t":242,"v":8.6},{"p":"B","s":"Lp","t":249,"v":8.2},{"p":"B","s":"Lp","t":259,"v":6.9},{"p":"B","s":"Lp","t":271,"v":5.3},{"p":"B","s":"Lp","t":284,"v":3.7},{"p":"B","s":"Lp","t":297,"v":2.4},{"p":"B","s":"Lp","t":311,"v":1.5},{"p":"B","s":"Lp","t":328,"v":0.9},
{"p":"B","s":"Lp","t":336,"v":1.8},{"p":"B","s":"Lp","t":346,"v":3.8},{"p":"B","s":"Lp","t":356,"v":5.8},{"p":"B","s":"Lp","t":366,"v":7.5},{"p":"B","s":"Lp","t":373,"v":8.4},{"p":"B","s":"Lp","t":378,"v":8.6},{"p":"B","s":"Lp","t":385,"v":8.2},{"p":"B","s":"Lp","t":395,"v":6.9},{"p":"B","s":"Lp","t":407,"v":5.3},{"p":"B","s":"Lp","t":420,"v":3.7},{"p":"B","s":"Lp","t":433,"v":2.4},{"p":"B","s":"Lp","t":447,"v":1.5},{"p":"B","s":"Lp","t":464,"v":0.9},
{"p":"B","s":"Lp","t":472,"v":1.8},{"p":"B","s":"Lp","t":482,"v":3.8},{"p":"B","s":"Lp","t":492,"v":5.8},{"p":"B","s":"Lp","t":502,"v":7.5},{"p":"B","s":"Lp","t":509,"v":8.4},{"p":"B","s":"Lp","t":514,"v":8.6},{"p":"B","s":"Lp","t":521,"v":8.2},{"p":"B","s":"Lp","t":531,"v":6.9},{"p":"B","s":"Lp","t":543,"v":5.3},{"p":"B","s":"Lp","t":556,"v":3.7},{"p":"B","s":"Lp","t":569,"v":2.4},{"p":"B","s":"Lp","t":583,"v":1.5},{"p":"B","s":"Lp","t":601,"v":0.9},
{"p":"B","s":"Lp","t":609,"v":1.8},{"p":"B","s":"Lp","t":619,"v":3.8},{"p":"B","s":"Lp","t":629,"v":5.8},{"p":"B","s":"Lp","t":639,"v":7.5},{"p":"B","s":"Lp","t":645,"v":8.4},{"p":"B","s":"Lp","t":650,"v":8.6},{"p":"B","s":"Lp","t":657,"v":8.2},{"p":"B","s":"Lp","t":667,"v":6.9},{"p":"B","s":"Lp","t":679,"v":5.3},{"p":"B","s":"Lp","t":692,"v":3.7},{"p":"B","s":"Lp","t":705,"v":2.4},{"p":"B","s":"Lp","t":719,"v":1.5},{"p":"B","s":"Lp","t":737,"v":0.9},
{"p":"B","s":"Lp","t":745,"v":1.8},{"p":"B","s":"Lp","t":755,"v":3.8},{"p":"B","s":"Lp","t":765,"v":5.8},{"p":"B","s":"Lp","t":775,"v":7.5},{"p":"B","s":"Lp","t":781,"v":8.4},{"p":"B","s":"Lp","t":786,"v":8.6},{"p":"B","s":"Lp","t":793,"v":8.2},{"p":"B","s":"Lp","t":803,"v":6.9},{"p":"B","s":"Lp","t":815,"v":5.3},{"p":"B","s":"Lp","t":828,"v":3.7},{"p":"B","s":"Lp","t":841,"v":2.4},{"p":"B","s":"Lp","t":855,"v":1.5},{"p":"B","s":"Lp","t":874,"v":0.9},
{"p":"B","s":"Lp","t":882,"v":1.8},{"p":"B","s":"Lp","t":892,"v":3.8},{"p":"B","s":"Lp","t":902,"v":5.8},{"p":"B","s":"Lp","t":912,"v":7.5},{"p":"B","s":"Lp","t":918,"v":8.4},{"p":"B","s":"Lp","t":923,"v":8.6},{"p":"B","s":"Lp","t":930,"v":8.2},{"p":"B","s":"Lp","t":940,"v":6.9},{"p":"B","s":"Lp","t":952,"v":5.3},{"p":"B","s":"Lp","t":965,"v":3.7},{"p":"B","s":"Lp","t":978,"v":2.4},{"p":"B","s":"Lp","t":990,"v":1.6},{"p":"B","s":"Lp","t":1000,"v":1.2},

{"p":"B","s":"miR","t":0,"v":0},{"p":"B","s":"miR","t":4,"v":0.9},{"p":"B","s":"miR","t":8,"v":1.3},{"p":"B","s":"miR","t":12,"v":1.38},{"p":"B","s":"miR","t":500,"v":1.38},{"p":"B","s":"miR","t":1000,"v":1.38}
]},
"data": {"name": "d"},
"spacing": 4,
"hconcat": [
 {
  "width": 286, "height": 422,
  "title": {"text": "A", "anchor": "start", "frame": "bounds", "fontSize": 14, "fontWeight": "normal", "font": "Liberation Sans", "color": "black", "offset": 0, "dy": 14},
  "transform": [{"filter": "datum.p === 'A'"}],
  "mark": {"type": "line", "clip": true, "strokeWidth": 2.5},
  "encoding": {
   "x": {"field": "t", "type": "quantitative", "scale": {"domain": [0, 1000], "nice": false}, "axis": {"values": [0, 500, 1000], "title": "Time (min)", "titlePadding": 3, "labelPadding": 7}},
   "y": {"field": "v", "type": "quantitative", "scale": {"domain": [0, 20], "nice": false}, "axis": {"values": [0, 5, 10, 15, 20], "title": "Concentration (nM)", "titleFontSize": 27, "titlePadding": 9}},
   "color": {"field": "s", "type": "nominal", "scale": {"domain": ["Ni", "Cm", "Lm", "Lp", "miR"], "range": ["#f01818", "#c8891c", "#1a2a8a", "#000000", "#1a8a1a"]}, "legend": null}
  }
 },
 {
  "width": 286, "height": 422,
  "title": {"text": "B", "anchor": "start", "frame": "bounds", "fontSize": 14, "fontWeight": "normal", "font": "Liberation Sans", "color": "black", "offset": 0, "dy": 14},
  "transform": [{"filter": "datum.p === 'B'"}],
  "mark": {"type": "line", "clip": true, "strokeWidth": 2.5},
  "encoding": {
   "x": {"field": "t", "type": "quantitative", "scale": {"domain": [0, 1000], "nice": false}, "axis": {"values": [0, 500, 1000], "title": "Time (min)", "titlePadding": 3, "labelPadding": 7}},
   "y": {"field": "v", "type": "quantitative", "scale": {"domain": [0, 40], "nice": false}, "axis": {"values": [0, 10, 20, 30, 40], "title": "Concentration (nM)", "titleFontSize": 27, "titlePadding": 9}},
   "color": {"field": "s", "type": "nominal", "scale": {"domain": ["Ni", "Cm", "Lm", "Lp", "miR"], "range": ["#f01818", "#c8891c", "#8020e8", "#000000", "#1a8a1a"]},
     "legend": {"orient": "none", "legendX": 172, "legendY": 9, "title": null, "symbolType": "stroke", "symbolSize": 1849, "symbolStrokeWidth": 2.5, "labelFontSize": 25, "labelFont": "DejaVu Sans", "labelColor": "black", "labelOffset": 6, "rowPadding": 3, "padding": 0}}
  }
 }
],
"resolve": {"scale": {"color": "independent", "y": "independent"}, "legend": {"color": "independent"}}
}
